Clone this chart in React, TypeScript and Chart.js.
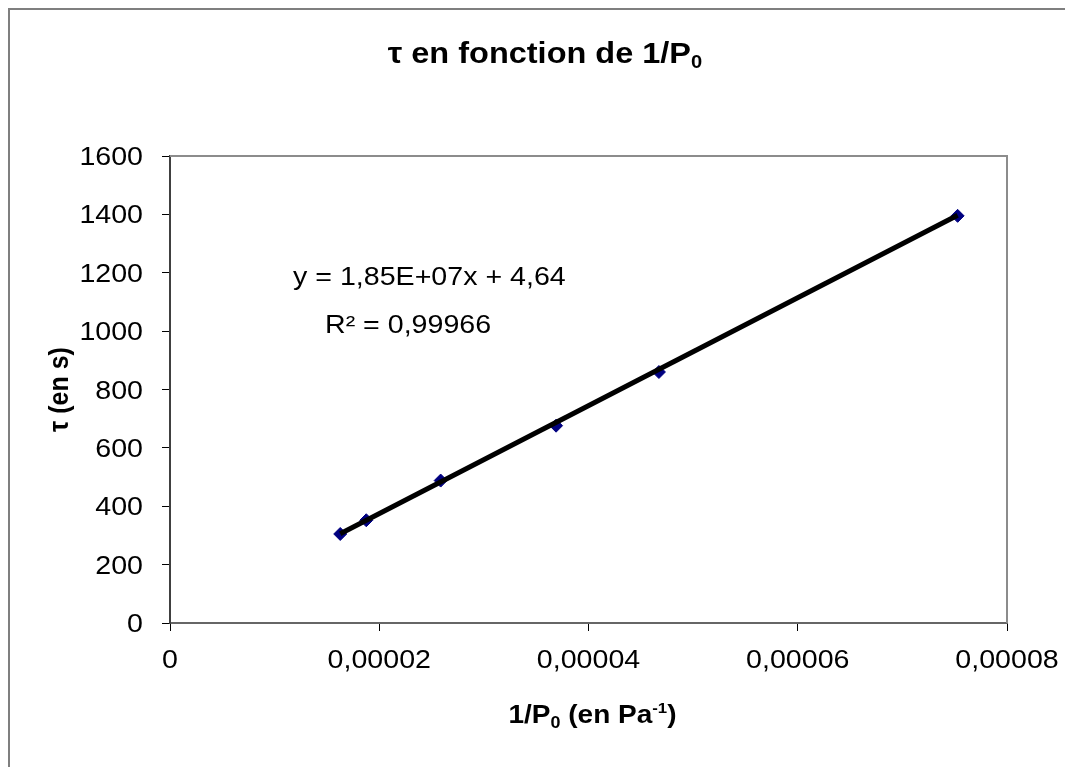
import React, { useEffect, useRef } from "react";
import { Chart, registerables } from "chart.js";

Chart.register(...registerables);

// ---- Data ----
const invP0Values = [1.627e-5, 1.876e-5, 2.587e-5, 3.69e-5, 4.673e-5, 7.528e-5];
const tauValues = [305, 352, 488, 676, 860, 1395];
const trendSlope = 1.85e7;
const trendIntercept = 4.64;
const xTickValues = [0, 0.00002, 0.00004, 0.00006, 0.00008];
const xTickLabels = ["0", "0,00002", "0,00004", "0,00006", "0,00008"];
const yTickValues = [0, 200, 400, 600, 800, 1000, 1200, 1400, 1600];
const yTickLabels = ["0", "200", "400", "600", "800", "1000", "1200", "1400", "1600"];
const equationLines = ["y = 1,85E+07x + 4,64", "R² = 0,99966"];

const W = 1063;
const H = 757;
const FONT = "'Liberation Sans', Arial, sans-serif";
const SX = 1.1;

type Seg = { t: string; s: number; b?: boolean; dy?: number };

function segFont(sg: Seg) {
  return `${sg.b ? "bold " : ""}${sg.s}px ${FONT}`;
}

function drawRich(ctx: CanvasRenderingContext2D, segs: Seg[], x: number, y: number, align: string, sx: number) {
  let total = 0;
  const widths = segs.map((sg) => {
    ctx.font = segFont(sg);
    const w = ctx.measureText(sg.t).width;
    total += w;
    return w;
  });
  let x0 = x;
  if (align === "center") x0 = x - (total * sx) / 2;
  else if (align === "right") x0 = x - total * sx;
  ctx.save();
  ctx.translate(x0, y);
  ctx.scale(sx, 1);
  ctx.textAlign = "left";
  ctx.textBaseline = "alphabetic";
  ctx.fillStyle = "#000";
  let cx = 0;
  segs.forEach((sg, i) => {
    ctx.font = segFont(sg);
    ctx.fillText(sg.t, cx, sg.dy || 0);
    cx += widths[i];
  });
  ctx.restore();
}

const framePlugin = {
  id: "frame",
  beforeDatasetsDraw(chart: any) {
    const { ctx, chartArea } = chart;
    ctx.save();
    ctx.strokeStyle = "#8c8c8c";
    ctx.lineWidth = 2;
    ctx.beginPath();
    ctx.moveTo(chartArea.left, chartArea.top);
    ctx.lineTo(chartArea.right, chartArea.top);
    ctx.lineTo(chartArea.right, chartArea.bottom);
    ctx.stroke();
    ctx.restore();
  },
};

const textPlugin = {
  id: "texts",
  afterDraw(chart: any) {
    const { ctx, chartArea } = chart;
    const xs = chart.scales.x;
    const ys = chart.scales.y;
    // tick labels
    xTickValues.forEach((v, i) => {
      drawRich(ctx, [{ t: xTickLabels[i], s: 26 }], xs.getPixelForValue(v), chartArea.bottom + 45, "center", SX);
    });
    yTickValues.forEach((v, i) => {
      drawRich(ctx, [{ t: yTickLabels[i], s: 26 }], chartArea.left - 27, ys.getPixelForValue(v) + 9, "right", SX);
    });
    // chart title
    drawRich(
      ctx,
      [
        { t: "τ en fonction de 1/P", s: 29, b: true },
        { t: "0", s: 18, b: true, dy: 5 },
      ],
      535,
      53,
      "center",
      SX + 0.02
    );
    // x axis title
    drawRich(
      ctx,
      [
        { t: "1/P", s: 25, b: true },
        { t: "0", s: 16, b: true, dy: 5 },
        { t: " (en Pa", s: 25, b: true },
        { t: "-1", s: 15, b: true, dy: -10 },
        { t: ")", s: 25, b: true },
      ],
      (chartArea.left + chartArea.right) / 2 + 4,
      713,
      "center",
      SX + 0.02
    );
    // y axis title (rotated)
    ctx.save();
    ctx.translate(58, (chartArea.top + chartArea.bottom) / 2);
    ctx.rotate(-Math.PI / 2);
    ctx.scale(1, SX);
    drawRich(ctx, [{ t: "τ (en s)", s: 25, b: true }], 0, 0, "center", 1);
    ctx.restore();
    // trendline equation
    drawRich(ctx, [{ t: equationLines[0], s: 26 }], 283, 275, "left", SX);
    drawRich(ctx, [{ t: equationLines[1], s: 26 }], 315, 323, "left", SX);
  },
};

export default function App() {
  const ref = useRef<HTMLCanvasElement | null>(null);
  useEffect(() => {
    document.documentElement.style.overflow = "hidden";
    document.body.style.overflow = "hidden";
    const canvas = ref.current;
    if (!canvas) return;
    const points = invP0Values.map((x, i) => ({ x, y: tauValues[i] }));
    const xMin = Math.min(...invP0Values);
    const xMax = Math.max(...invP0Values);
    const trendPoints = [
      { x: xMin, y: trendSlope * xMin + trendIntercept },
      { x: xMax, y: trendSlope * xMax + trendIntercept },
    ];
    const chart = new Chart(canvas, {
      type: "scatter",
      data: {
        datasets: [
          {
            label: "Linéaire",
            type: "line",
            data: trendPoints,
            borderColor: "#000000",
            borderWidth: 5,
            pointRadius: 0,
            showLine: true,
            fill: false,
            order: 0,
          } as any,
          {
            label: "τ",
            data: points,
            pointStyle: "rectRot",
            pointRadius: 6.5,
            backgroundColor: "#000080",
            borderColor: "#000080",
            borderWidth: 1,
            showLine: false,
            order: 1,
          },
        ],
      },
      options: {
        animation: false,
        responsive: false,
        maintainAspectRatio: false,
        layout: { padding: { left: 0, top: 146, right: 66, bottom: 0 } },
        plugins: {
          legend: { display: false },
          tooltip: { enabled: false },
          title: { display: false },
        },
        scales: {
          x: {
            type: "linear",
            position: "bottom",
            min: 0,
            max: 0.00008,
            afterBuildTicks: (s: any) => {
              s.ticks = xTickValues.map((v) => ({ value: v }));
            },
            afterFit: (s: any) => {
              s.height = H - 613;
            },
            ticks: { display: false },
            grid: { drawOnChartArea: false, drawTicks: true, tickLength: 8, color: "#000", lineWidth: 1 },
            border: { display: true, color: "#666666", width: 2 },
          },
          y: {
            type: "linear",
            position: "left",
            min: 0,
            max: 1600,
            afterBuildTicks: (s: any) => {
              s.ticks = yTickValues.map((v) => ({ value: v }));
            },
            afterFit: (s: any) => {
              s.width = 160;
            },
            ticks: { display: false },
            grid: { drawOnChartArea: false, drawTicks: true, tickLength: 8, color: "#000", lineWidth: 1 },
            border: { display: true, color: "#404040", width: 2 },
          },
        },
      } as any,
      plugins: [framePlugin, textPlugin],
    });
    return () => chart.destroy();
  }, []);
  return (
    <div
      style={{
        position: "relative",
        width: W,
        height: H,
        borderLeft: "2px solid #7f7f7f",
        borderTop: "2px solid #7f7f7f",
        background: "#fff",
      }}
    >
      <canvas ref={ref} width={W} height={H} style={{ display: "block", width: W, height: H }} />
    </div>
  );
}
